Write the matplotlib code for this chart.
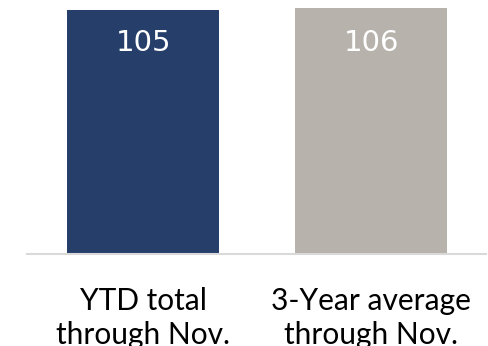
import matplotlib
matplotlib.use('Agg')
import matplotlib.pyplot as plt

categories = ['YTD total\nthrough Nov.', '3-Year average\nthrough Nov.']
values = [105, 106]
colors = ['#263F6A', '#B7B2AB']

plt.rcParams['font.family'] = ['Lato', 'DejaVu Sans']

fig = plt.figure(figsize=(4.88, 3.46), dpi=100)
ax = fig.add_axes([0.0553, 0.266, 0.9407, 0.734])

x = list(range(len(values)))
bars = ax.bar(x, values, width=0.667, color=colors)
for xi, v in zip(x, values):
    ax.text(xi, 109.4 - 18.4, str(v), ha='center', va='center', color='white',
            fontsize=21, family='DejaVu Sans')

ax.set_xlim(-0.509, 1.504)
ax.set_ylim(0, 109.4)
ax.set_xticks(x)
ax.set_xticklabels(categories, fontsize=21.5, linespacing=1.25)
ax.tick_params(axis='x', length=0, pad=24)
ax.set_yticks([])
for side in ['left', 'right', 'top']:
    ax.spines[side].set_visible(False)
ax.spines['bottom'].set_color('#D9D9D9')
ax.spines['bottom'].set_linewidth(1.5)

fig.savefig('out.png', dpi=100)
